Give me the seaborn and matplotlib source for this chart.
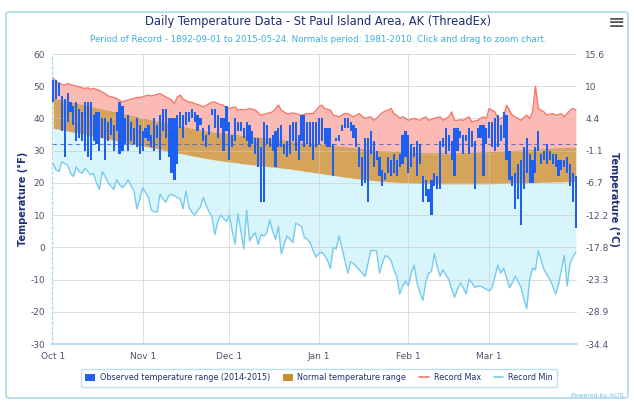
import numpy as np
import matplotlib
matplotlib.use("Agg")
import matplotlib.pyplot as plt
import seaborn as sns
from matplotlib.patches import Patch, FancyBboxPatch
from matplotlib.lines import Line2D

# ---------------- data (°F, one value per day, Oct 1 2014 .. Mar 31 2015) ----------------
record_max = [
    52.5, 51.5, 51.0, 50.5, 50.3, 50.8, 50.5, 50.3, 50.0, 49.8,
    49.5, 49.3, 49.5, 49.0, 49.3, 49.0, 48.7, 48.2, 47.7, 47.0,
    46.7, 46.5, 46.2, 45.5, 45.1, 45.5, 45.7, 46.0, 46.2, 46.5,
    46.5, 46.7, 47.0, 47.2, 47.0, 47.2, 47.5, 47.7, 47.2, 46.7,
    46.2, 45.7, 44.6, 46.7, 47.2, 46.0, 45.5, 45.1, 45.0, 44.6,
    44.3, 44.0, 43.6, 44.0, 44.6, 45.0, 45.1, 44.6, 44.3, 44.1,
    43.0, 43.1, 43.3, 43.6, 42.6, 42.8, 42.6, 42.8, 43.1, 42.8,
    42.6, 41.8, 41.0, 41.3, 41.5, 41.8, 42.0, 43.0, 44.1, 42.6,
    42.0, 41.5, 41.5, 41.7, 41.5, 41.2, 41.0, 41.3, 41.5, 41.5,
    41.5, 42.5, 43.6, 44.1, 43.1, 42.8, 42.6, 41.0, 40.8, 40.5,
    41.0, 41.5, 41.5, 41.0, 40.5, 41.0, 41.5, 40.7, 40.0, 40.3,
    40.5, 39.4, 40.0, 41.0, 41.8, 42.3, 42.6, 43.1, 41.5, 41.0,
    40.0, 40.5, 40.0, 39.4, 39.7, 40.0, 39.7, 39.4, 40.0, 40.5,
    39.4, 39.7, 40.0, 40.3, 40.5, 39.4, 40.0, 40.5, 42.0, 39.4,
    39.4, 39.6, 39.4, 40.0, 40.5, 38.9, 39.2, 39.4, 40.0, 40.5,
    40.0, 43.1, 42.5, 42.0, 40.0, 40.0, 40.5, 44.1, 42.5, 41.0,
    40.5, 40.0, 39.4, 40.3, 41.0, 40.0, 42.0, 50.0, 43.1, 42.5,
    42.0, 41.0, 41.3, 41.5, 41.0, 41.2, 41.5, 40.5, 41.5, 42.6,
    43.1, 42.6,
]

record_min = [
    26, 24, 23.5, 26.5, 26, 25.5, 23, 22, 25, 23.5,
    23, 24.5, 23.5, 22.5, 23, 20, 18, 23.5, 22, 20,
    19, 18, 21, 19.5, 18.5, 19.5, 21, 19, 17.5, 12,
    15, 18.5, 17, 15.5, 11.5, 11, 11, 16.5, 15, 14,
    16, 16.5, 16, 15.5, 15, 12, 17.5, 12.5, 11, 10,
    11.5, 12.5, 15.5, 13, 11, 9.5, 4, 8, 10, 9,
    8, 10, 5, 1, 10.5, 5, -0.5, 11.5, 2, 3.5,
    4.5, 1, 4, 3.5, 4.5, 8.5, 5, 2.5, 6.5, -2,
    1, 3.5, 2.5, 1.5, 7.5, 7, 6.5, 3, 2.5, 1.5,
    -1, -3, -2, -1.5, -2.5, -4, -6.5, 0, -0.5, 3.5,
    0, -4, -8, -4.5, -5, -6, -7, -8, -9, -5,
    -1, -1, -1, -8, -5, -2.5, -3, -4, -7, -9,
    -14.5, -12, -10.5, -12, -8, -5.5, -11, -14, -16.5, -11,
    -8, -7.5, -2, -6, -9, -7, -8.5, -10, -13, -15.5,
    -13, -11, -12.5, -14.5, -10, -11, -12.5, -12, -12, -12.5,
    -13, -13.5, -12.5, -9, -5.5, -8, -6.5, -9.5, -12.5, -11,
    -9, -10.5, -12.5, -16, -19, -10, -6.5, -7, -1, -4,
    -7, -8.5, -10, -12, -14.5, -11.5, -7, -2.5, -12, -5,
    -3, -1.5,
]

normal_high = [
    46.0, 45.8, 45.6, 45.4, 45.2, 45.0, 44.8, 44.6, 44.4, 44.2, 44.0, 43.8, 43.6, 43.4, 43.2, 43.0,
    42.8, 42.6, 42.4, 42.2, 42.0, 41.8, 41.6, 41.4, 41.2, 41.0, 40.8, 40.6, 40.4, 40.2, 40.0,
    39.8, 39.6, 39.4, 39.2, 39.0, 38.8, 38.7, 38.5, 38.3, 38.1, 37.9, 37.7, 37.5, 37.3, 37.1,
    37.0, 36.8, 36.6, 36.4, 36.2, 36.1, 35.9, 35.8, 35.6, 35.5, 35.4, 35.3, 35.2, 35.1, 35.0,
    34.9, 34.8, 34.7, 34.6, 34.5, 34.4, 34.3, 34.2, 34.1, 34.0, 33.9, 33.8, 33.7, 33.6, 33.5,
    33.4, 33.3, 33.2, 33.1, 33.0, 32.9, 32.8, 32.7, 32.6, 32.5, 32.4, 32.3, 32.2, 32.1, 32.0, 31.9,
    31.8, 31.7, 31.6, 31.5, 31.4, 31.3, 31.2, 31.1, 31.0, 30.9, 30.8, 30.7, 30.6, 30.5, 30.4,
    30.3, 30.2, 30.1, 30.0, 29.9, 29.8, 29.8, 29.7, 29.7, 29.6, 29.6, 29.5, 29.5, 29.4, 29.4, 29.3,
    29.3, 29.2, 29.2, 29.1, 29.1, 29.0, 29.0, 29.0, 29.0, 29.0, 29.0, 29.0, 29.0, 29.0,
    29.0, 29.0, 29.0, 29.0, 29.0, 29.1, 29.1, 29.1, 29.2, 29.2, 29.2, 29.3, 29.3, 29.3,
    29.4, 29.4, 29.5, 29.5, 29.5, 29.6, 29.6, 29.7, 29.7, 29.8, 29.8, 29.9, 29.9, 30.0, 30.0, 30.1,
    30.1, 30.2, 30.2, 30.3, 30.3, 30.4, 30.4, 30.5, 30.5, 30.6, 30.6, 30.7, 30.7, 30.8, 30.8,
]

normal_low = [
    37.0, 36.8, 36.6, 36.5, 36.3, 36.1, 35.9, 35.7, 35.6, 35.4, 35.2, 35.0, 34.8, 34.7, 34.5, 34.3,
    34.1, 33.9, 33.8, 33.6, 33.4, 33.2, 33.0, 32.9, 32.7, 32.5, 32.3, 32.1, 32.0, 31.8, 31.6,
    31.5, 31.3, 31.1, 30.9, 30.8, 30.6, 30.4, 30.2, 30.0, 29.9, 29.7, 29.5, 29.3, 29.1, 29.0,
    28.8, 28.6, 28.4, 28.2, 28.1, 27.9, 27.7, 27.6, 27.4, 27.3, 27.1, 27.0, 26.9, 26.7, 26.6,
    26.5, 26.4, 26.3, 26.2, 26.0, 25.9, 25.8, 25.7, 25.6, 25.5, 25.4, 25.3, 25.2, 25.1, 25.0,
    24.9, 24.8, 24.7, 24.6, 24.5, 24.4, 24.3, 24.2, 24.0, 23.9, 23.8, 23.6, 23.5, 23.4, 23.2, 23.1,
    23.0, 22.9, 22.7, 22.6, 22.5, 22.3, 22.2, 22.1, 21.9, 21.8, 21.7, 21.6, 21.4, 21.3, 21.2,
    21.1, 21.0, 20.9, 20.8, 20.7, 20.6, 20.5, 20.4, 20.4, 20.3, 20.3, 20.2, 20.2, 20.1, 20.1, 20.0,
    20.0, 20.0, 19.9, 19.9, 19.9, 19.8, 19.8, 19.8, 19.8, 19.7, 19.7, 19.7, 19.7, 19.7,
    19.7, 19.7, 19.7, 19.7, 19.7, 19.7, 19.7, 19.7, 19.7, 19.7, 19.7, 19.7, 19.7, 19.7,
    19.7, 19.7, 19.8, 19.8, 19.8, 19.8, 19.9, 19.9, 19.9, 19.9, 20.0, 20.0, 20.0, 20.0, 20.1, 20.1,
    20.1, 20.1, 20.2, 20.2, 20.2, 20.2, 20.3, 20.3, 20.3, 20.3, 20.4, 20.4, 20.4, 20.5, 20.5,
]

obs_high = [
    52, 52, 51, 47, 46, 48, 45, 44, 45, 43,
    42, 45, 45, 45, 41, 42, 42, 40, 40, 39,
    40, 38, 42, 45, 44, 40, 41, 39, 37, 40,
    38, 36, 37, 38, 35, 40, 38, 41, 43, 43,
    40, 40, 40, 41, 42, 41, 42, 42, 43, 42,
    41, 40, 37, 35, 38, 43, 43, 41, 40, 40,
    44, 39, 35, 40, 39, 39, 37, 39, 38, 36,
    34, 34, 31, 39, 38, 34, 35, 36, 37, 38,
    32, 33, 38, 39, 39, 35, 41, 41, 39, 39,
    39, 39, 40, 40, 37, 37, 37, 32, 34, 35,
    38, 40, 40, 39, 38, 37, 31, 28, 34, 34,
    36, 33, 30, 28, 24, 23, 28, 27, 29, 27,
    29, 35, 36, 35, 32, 31, 33, 32, 22, 21,
    18, 21, 23, 22, 33, 34, 37, 35, 33, 37,
    37, 36, 35, 35, 37, 36, 33, 37, 38, 38,
    37, 39, 39, 40, 41, 38, 42, 41, 30, 22,
    23, 26, 27, 31, 34, 29, 27, 31, 36, 29,
    30, 32, 30, 29, 29, 27, 27, 27, 28, 26,
    23, 22,
]

obs_low = [
    45, 46, 47, 36, 28, 39, 42, 38, 33, 34,
    33, 30, 28, 27, 33, 32, 30, 34, 27, 33,
    35, 30, 36, 29, 30, 32, 30, 33, 32, 31,
    29, 30, 34, 33, 31, 30, 34, 27, 36, 34,
    28, 23, 21, 26, 37, 34, 38, 39, 40, 39,
    36, 38, 33, 31, 35, 41, 37, 34, 37, 30,
    36, 27, 31, 33, 36, 36, 34, 33, 31, 32,
    29, 25, 14, 14, 32, 31, 30, 25, 31, 31,
    29, 28, 29, 33, 30, 27, 33, 31, 32, 31,
    27, 31, 32, 33, 32, 31, 31, 22, 33, 33,
    36, 37, 37, 36, 34, 31, 25, 19, 20, 14,
    29, 25, 27, 22, 19, 21, 23, 22, 23, 22,
    25, 26, 28, 23, 25, 28, 22, 26, 14, 16,
    14, 10, 19, 18, 18, 31, 29, 30, 27, 22,
    30, 34, 29, 33, 29, 31, 18, 34, 34, 22,
    32, 34, 31, 30, 31, 33, 34, 27, 21, 19,
    12, 15, 7, 18, 23, 20, 20, 23, 30, 26,
    27, 26, 27, 26, 25, 22, 24, 25, 23, 19,
    14, 6,
]

month_ticks = [0, 31, 61, 92, 123, 151]
month_labels = ["Oct 1", "Nov 1", "Dec 1", "Jan 1", "Feb 1", "Mar 1"]
f_ticks = [-30, -20, -10, 0, 10, 20, 30, 40, 50, 60]
c_labels = ["-34.4", "-28.9", "-23.3", "-17.8", "-12.2", "-6.7", "-1.1", "4.4", "10", "15.6"]
freezing_f = 32

title = "Daily Temperature Data - St Paul Island Area, AK (ThreadEx)"
subtitle = ("Period of Record - 1892-09-01 to 2015-05-24. Normals period: 1981-2010. "
            "Click and drag to zoom chart.")

# ---------------- styling ----------------
sns.set_theme(style="white")
plt.rcParams['font.family'] = ['DejaVu Sans']

W, H = 634, 404
fig = plt.figure(figsize=(W / 100, H / 100), dpi=100)
fig.patch.set_facecolor("white")

# outer rounded border
fig.patches.append(FancyBboxPatch((6 / W, 6 / H), (W - 12) / W, (H - 18) / H,
                                  boxstyle="round,pad=0,rounding_size=0.006",
                                  transform=fig.transFigure, fill=False,
                                  edgecolor="#a9d9ee", linewidth=1.2))

x0, x1, ytop, ybot = 52, 577, 54, 344
ax = fig.add_axes([x0 / W, 1 - ybot / H, (x1 - x0) / W, (ybot - ytop) / H])
ax.set_facecolor("none")

days = np.arange(len(record_max))
rmax = np.array(record_max, dtype=float)
rmin = np.array(record_min, dtype=float)
nhi = np.array(normal_high, dtype=float)
nlo = np.array(normal_low, dtype=float)
ohi = np.array(obs_high, dtype=float)
olo = np.array(obs_low, dtype=float)

col_obs = "#1d5ff0"
col_norm = "#d6a35a"
col_rmax_fill = "#fbbab3"
col_rmax_line = "#f4786c"
col_rmin_fill = "#d8f5fc"
col_rmin_line = "#76cbef"

ax.fill_between(days, nhi, rmax, color=col_rmax_fill, lw=0, zorder=1)
ax.fill_between(days, rmin, nlo, color=col_rmin_fill, lw=0, zorder=1)
ax.fill_between(days, nlo, nhi, color=col_norm, lw=0, zorder=2)
ax.plot(days, nhi, color="#c99040", lw=0.6, zorder=2.1)

# grid lines
for t in f_ticks[1:]:
    ax.axhline(t, color="#c8c8c8", lw=0.7, alpha=0.6, zorder=2.5)
for m in month_ticks[1:]:
    ax.axvline(m, color="#c8c8c8", lw=0.7, alpha=0.6, zorder=2.5)

sns.lineplot(x=days, y=rmax, color=col_rmax_line, lw=1.0, ax=ax, zorder=3)
sns.lineplot(x=days, y=rmin, color=col_rmin_line, lw=1.0, ax=ax, zorder=3)

ax.axhline(freezing_f, color="#4a5fc4", lw=0.8, ls=(0, (4, 3)), alpha=0.8, zorder=3.5)

ax.bar(days, ohi - olo, bottom=olo, width=0.75, color=col_obs, lw=0, zorder=5)

ax.set_xlim(-0.4, 181.4)
ax.set_ylim(-30, 60)
ax.set_yticks(f_ticks)
ax.set_yticklabels([str(t) for t in f_ticks])
ax.set_xticks(month_ticks)
ax.set_xticklabels(month_labels)
ax.tick_params(axis="both", length=0, labelsize=6.5, colors="#505070")
ax.tick_params(axis="y", pad=5)
ax.tick_params(axis="x", pad=6)
for s in ["top", "right"]:
    ax.spines[s].set_visible(False)
ax.spines["left"].set_color("#a9d9ee")
ax.spines["left"].set_linestyle((0, (2, 2)))
ax.spines["left"].set_linewidth(0.9)
ax.spines["bottom"].set_color("#a9d9ee")
ax.spines["bottom"].set_linewidth(1.2)
ax.set_xlabel("")
ax.set_ylabel("")

ax2 = ax.twinx()
ax2.set_ylim(-30, 60)
ax2.set_yticks(f_ticks)
ax2.set_yticklabels(c_labels)
ax2.tick_params(axis="y", length=0, labelsize=6.5, colors="#505070", pad=6)
for s in ["top", "right", "left", "bottom"]:
    ax2.spines[s].set_visible(False)
ax2.set_ylabel("")
ax2.grid(False)

fig.text(23 / W, 1 - 199 / H, "Temperature (°F)", rotation=90, ha="center", va="center",
         fontsize=7, fontweight="bold", color="#1c2f72")
fig.text(614 / W, 1 - 199 / H, "Temperature (°C)", rotation=270, ha="center", va="center",
         fontsize=7, fontweight="bold", color="#1c2f72")

fig.text(318 / W, 1 - 22 / H, title, ha="center", va="center", fontsize=8.3,
         color="#1c2f72")
fig.text(318 / W, 1 - 40 / H, subtitle, ha="center", va="center", fontsize=6.3,
         color="#3aaedb")
fig.text(617 / W, 1 - 23 / H, "≡", ha="center", va="center", fontsize=15, color="#555555")

handles = [
    Patch(facecolor=col_obs, edgecolor="none"),
    Patch(facecolor="#c8902e", edgecolor="none"),
    Line2D([0], [0], color=col_rmax_line, lw=1.2),
    Line2D([0], [0], color=col_rmin_line, lw=1.2),
]
labels = ["Observed temperature range (2014-2015)", "Normal temperature range",
          "Record Max", "Record Min"]
leg = fig.legend(handles, labels, loc="center", bbox_to_anchor=(319 / W, 1 - 378 / H),
                 ncol=4, fontsize=5.8, frameon=True, fancybox=True,
                 handlelength=1.2, handleheight=1.0, columnspacing=1.6,
                 handletextpad=0.6, borderpad=0.55)
leg.get_frame().set_edgecolor("#a9d9ee")
leg.get_frame().set_linewidth(1.0)
for t in leg.get_texts():
    t.set_color("#1c2f72")

fig.text(624 / W, 1 - 396 / H, "Powered by ACIS", ha="right", va="center", fontsize=4.5,
         color="#6fb9dd")

fig.savefig("out.png", dpi=100)
